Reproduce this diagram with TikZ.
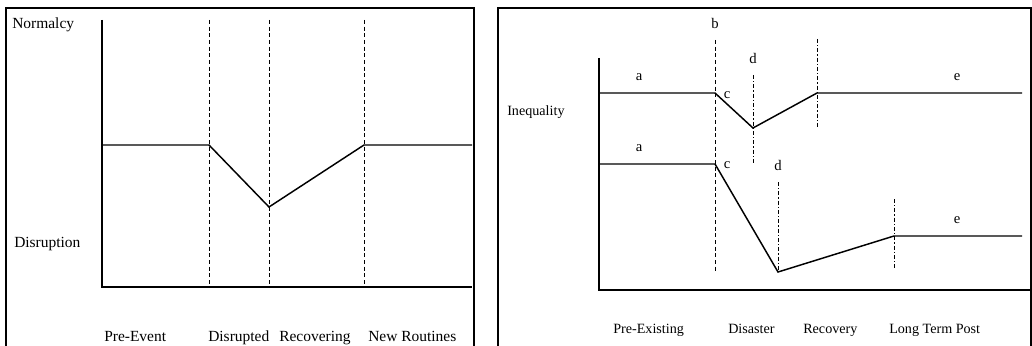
\documentclass[tikz,border=0pt]{standalone}
\usepackage{fontspec}
\setmainfont{Liberation Serif}
\usetikzlibrary{positioning}

\tikzset{
  lbl/.style={font=\fontsize{11.6}{13}\selectfont, inner sep=0pt, anchor=base west},
  rlbl/.style={font=\fontsize{10.6}{12}\selectfont, inner sep=0pt, anchor=base west},
  tag/.style={font=\fontsize{11}{12}\selectfont, inner sep=0pt},
  curve/.style={line width=1.1pt, line join=miter},
  axis/.style={line width=1.3pt},
  phase/.style={line width=0.7pt, dash pattern=on 3pt off 2pt},
  phasedot/.style={line width=0.7pt, dash pattern=on 3pt off 1.6pt on 0.8pt off 1.6pt},
  panel/.style={line width=0.8pt}
}

\begin{document}
\begin{tikzpicture}[x=0.75pt,y=0.75pt,yscale=-1,xscale=1]
\useasboundingbox (0,0) rectangle (1032,346);
\clip (0,0) rectangle (1032,346);

% Panels
\draw[panel] (6,360) -- (6,8) -- (474,8) -- (474,360);
\draw[panel] (498,360) -- (498,8) -- (1031,8) -- (1031,360);

%%% Left chart
% Axes
\coordinate (ltop) at (102,20);
\coordinate (lorg) at (102,287);
\coordinate (lend) at (472,287);
\draw[axis] (ltop) -- (lorg) -- (lend);

% Phase lines
\foreach \n/\x in {event/209,low/269,new/364}{
  \coordinate (\n-t) at (\x,20);
  \coordinate (\n-b) at (\x,287);
  \draw[phase] (\n-t) -- (\n-b);
}

% Curve
\coordinate (l0) at (102,145);
\coordinate (l1) at (209,145);
\coordinate (l2) at (269,207);
\coordinate (l3) at (364,145);
\coordinate (l4) at (472,145);
\draw[curve] (l0) -- (l1) -- (l2) -- (l3) -- (l4);

% Text Node
\node[lbl] (normalcy) at (12,29) {Normalcy};
\node[lbl] (disruption) at (14,247) {Disruption};
\node[lbl] (preevent) at (104,341) {Pre-Event};
\node[lbl] (disrupted) at (208,341) {Disrupted};
\node[lbl] (recovering) at (279,341) {Recovering};
\node[lbl] (routines) at (368,341) {New Routines};

%%% Right chart
% Axes
\coordinate (rtop) at (599,58);
\coordinate (rorg) at (599,290);
\coordinate (rend) at (1032,290);
\draw[axis] (rtop) -- (rorg) -- (rend);

% Phase lines
\coordinate (b-t) at (715,40);
\coordinate (b-b) at (715,272);
\draw[phase] (b-t) -- (b-b);
\foreach \n/\x/\ya/\yb in {ud/753/75/165,ur/817/39/128,ld/778/182/272,lr/894/199/269}{
  \coordinate (\n-t) at (\x,\ya);
  \coordinate (\n-b) at (\x,\yb);
  \draw[phasedot] (\n-t) -- (\n-b);
}

% Upper curve
\coordinate (u0) at (599,93);
\coordinate (u1) at (715,93);
\coordinate (u2) at (753,128);
\coordinate (u3) at (817,93);
\coordinate (u4) at (1022,93);
\draw[curve] (u0) -- (u1) -- (u2) -- (u3) -- (u4);

% Lower curve
\coordinate (w0) at (599,164);
\coordinate (w1) at (715,164);
\coordinate (w2) at (778,272);
\coordinate (w3) at (894,236);
\coordinate (w4) at (1022,236);
\draw[curve] (w0) -- (w1) -- (w2) -- (w3) -- (w4);

% Text Node
\node[rlbl] (inequality) at (507,115) {Inequality};
\node[tag] (tb) at (715,23) {b};
\node[tag] (ua) at (639,77) {a};
\node[tag] (uc) at (727,95) {c};
\node[tag] (ud) at (753,58) {d};
\node[tag] (ue) at (957,77) {e};
\node[tag] (la) at (639,148) {a};
\node[tag] (lc) at (727,165) {c};
\node[tag] (ld) at (778,165) {d};
\node[tag] (le) at (957,220) {e};
\node[rlbl] (preexisting) at (613,333) {Pre-Existing};
\node[rlbl] (disaster) at (728,333) {Disaster};
\node[rlbl] (recovery) at (803,333) {Recovery};
\node[rlbl] (longterm) at (889,333) {Long Term Post};

\end{tikzpicture}
\end{document}
